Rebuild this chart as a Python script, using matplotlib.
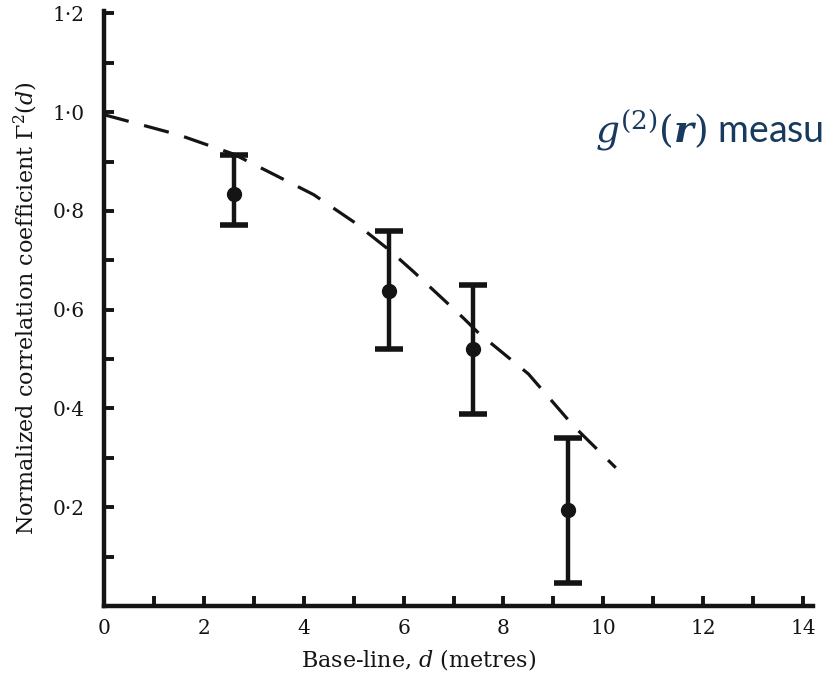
import matplotlib
matplotlib.use("Agg")
import matplotlib.pyplot as plt
from matplotlib.ticker import FixedLocator, FuncFormatter

# ---- data ----
baseline = [2.6, 5.7, 7.4, 9.3]
corr = [0.835, 0.637, 0.520, 0.194]
corr_upper = [0.913, 0.760, 0.651, 0.341]
corr_lower = [0.772, 0.520, 0.389, 0.046]

curve_x = [0.0, 1.5, 2.6, 3.5, 4.2, 5.0, 5.7, 6.2, 7.2, 7.5, 8.5, 9.4, 10.25]
curve_y = [0.995, 0.954, 0.915, 0.869, 0.833, 0.778, 0.722, 0.677, 0.583, 0.553, 0.470, 0.365, 0.280]

x_major = [0, 2, 4, 6, 8, 10, 12, 14]
x_minor = [1, 3, 5, 7, 9, 11, 13]
y_major = [0.2, 0.4, 0.6, 0.8, 1.0, 1.2]
y_minor = [0.1, 0.3, 0.5, 0.7, 0.9, 1.1]

xlabel = "Base-line, $d$ (metres)"
ylabel = "Normalized correlation coefficient $\\Gamma^2(d)$"
overlay = "$g^{(2)}(\\boldsymbol{r})$ measu"

plt.rcParams['mathtext.fontset'] = 'dejavuserif'

fig = plt.figure(figsize=(8.25, 6.75), dpi=100)
ax = fig.add_axes([104/825, 1 - 606/675, (813-104)/825, (606-11)/675])

ink = '#141414'

ax.plot(curve_x, curve_y, color=ink, lw=2.3, dashes=(8, 5))

yerr = [[c - l for c, l in zip(corr, corr_lower)],
        [u - c for c, u in zip(corr, corr_upper)]]
ax.errorbar(baseline, corr, yerr=yerr, fmt='o', color=ink, ms=10,
            elinewidth=3.2, capsize=10, capthick=4)

ax.set_xlim(0, 14.2)
ax.set_ylim(0, 1.205)

for s in ['top', 'right']:
    ax.spines[s].set_visible(False)
for s in ['left', 'bottom']:
    ax.spines[s].set_linewidth(3.2)
    ax.spines[s].set_color(ink)

ax.xaxis.set_major_locator(FixedLocator(x_major))
ax.xaxis.set_minor_locator(FixedLocator(x_minor))
ax.yaxis.set_major_locator(FixedLocator(y_major))
ax.yaxis.set_minor_locator(FixedLocator(y_minor))
ax.xaxis.set_major_formatter(FuncFormatter(lambda v, p: f"{int(round(v))}"))
ax.yaxis.set_major_formatter(FuncFormatter(lambda v, p: f"{v:.1f}".replace('.', '\u00b7')))

ax.tick_params(which='both', direction='in', length=7, width=2.8, color=ink,
               labelcolor=ink)
ax.tick_params(axis='y', which='major', pad=14)
ax.tick_params(axis='x', which='major', pad=9)
for lab in ax.get_xticklabels() + ax.get_yticklabels():
    lab.set_fontfamily('DejaVu Serif')
    lab.set_fontsize(14.5)

ax.set_xlabel(xlabel, family='DejaVu Serif', fontsize=16, color=ink)
ax.xaxis.set_label_coords((419-104)/(813-104), -(660-606)/(606-11))
ax.xaxis.label.set_verticalalignment('center')
ax.set_ylabel(ylabel, family='DejaVu Serif', fontsize=16, color=ink)
ax.yaxis.set_label_coords(-(104-26)/(813-104), 0.5)
ax.yaxis.label.set_verticalalignment('center')

fig.text(595/825, 1 - 130/675, overlay, color='#173a5e', fontsize=27,
         family='Lato', va='center', ha='left')

fig.savefig('out.png', dpi=100)
